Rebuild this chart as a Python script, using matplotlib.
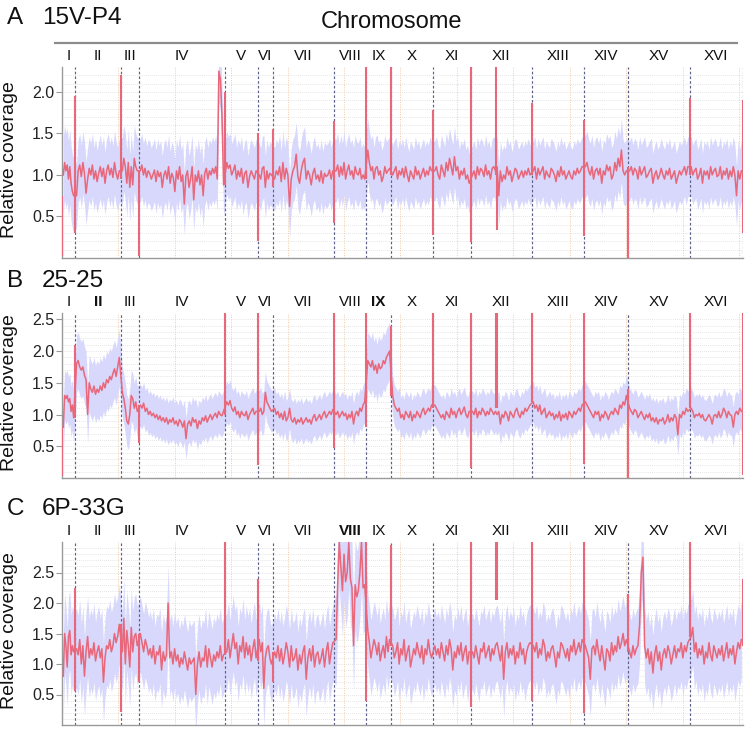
import numpy as np
import matplotlib
matplotlib.use('Agg')
import matplotlib.pyplot as plt

plt.rcParams['font.family'] = ['Liberation Sans', 'DejaVu Sans']

chrom_names = ['I', 'II', 'III', 'IV', 'V', 'VI', 'VII', 'VIII', 'IX', 'X',
               'XI', 'XII', 'XIII', 'XIV', 'XV', 'XVI']
chrom_len_kb = [230, 813, 317, 1532, 577, 270, 1091, 563, 440, 746, 667,
                1078, 924, 784, 1091, 948]

# relative coverage per chromosome (bins spread evenly along each chromosome)
covA = [
    [1.0, 1.15, 1.05, 1.12, 0.95, 1.1, 0.9, 0.8, 0.75],
    [0.75, 1.05, 1.12, 0.98, 1.15, 1.02, 0.78, 0.95, 1.08, 1.0, 1.12, 0.95, 1.05, 0.92, 1.02, 1.1, 0.98, 1.08, 0.9, 1.05, 1.12, 1.0, 1.08, 0.97, 1.15, 1.02, 0.95, 1.05],
    [1.05, 1.2, 1.1, 0.9, 1.15, 0.85, 1.1, 0.88, 1.2, 1.1, 1.05],
    [1.05, 1.12, 1.0, 1.08, 0.97, 1.05, 1.02, 0.95, 1.0, 1.06, 0.92, 1.05, 0.98, 1.03, 0.85, 1.0, 1.05, 0.95, 1.1, 0.9, 1.02, 0.97, 0.8, 1.05, 0.95, 1.1, 0.92, 1.0, 0.65, 0.98, 1.05, 0.85, 0.95, 1.1, 0.7, 1.0, 0.92, 1.05, 0.88, 1.0, 0.75, 1.02, 1.08, 0.95, 1.05, 1.0, 1.08, 1.02, 1.1, 0.95, 2.25, 2.15, 1.7, 0.88],
    [1.15, 1.08, 1.12, 1.0, 1.05, 1.12, 0.95, 1.05, 0.98, 1.08, 0.9, 1.02, 1.05, 0.85, 0.98, 1.05, 1.0, 0.95, 1.05],
    [1.0, 0.95, 1.08, 1.1, 0.85, 1.05, 0.95, 1.02, 1.0],
    [0.95, 1.05, 1.0, 1.1, 0.92, 1.15, 0.95, 1.08, 1.0, 0.62, 0.95, 1.05, 1.1, 1.25, 0.98, 0.9, 1.05, 1.15, 1.2, 0.95, 1.05, 1.0, 0.88, 1.02, 1.08, 0.95, 1.0, 0.92, 1.05, 0.9, 1.02, 0.98, 1.0, 1.06, 0.95, 1.05],
    [1.05, 1.12, 0.98, 1.1, 1.0, 1.15, 0.95, 1.05, 1.12, 1.0, 1.05, 0.95, 1.1, 1.02, 1.0, 1.08, 0.95, 1.0, 0.95],
    [1.3, 1.15, 1.05, 1.1, 0.95, 1.08, 1.1, 1.0, 1.05, 0.92, 0.98, 1.1, 1.02, 1.05, 1.08],
    [1.0, 1.05, 1.1, 0.95, 1.05, 1.0, 1.08, 0.97, 1.1, 1.0, 0.92, 1.05, 1.0, 0.95, 1.1, 1.0, 1.05, 0.95, 1.02, 1.08, 0.98, 1.05, 1.0, 1.1, 1.05],
    [1.05, 1.1, 1.0, 0.95, 1.12, 1.05, 0.98, 1.15, 1.05, 1.2, 1.1, 1.0, 1.22, 1.05, 1.1, 0.95, 1.05, 1.0, 1.08, 0.95, 1.0, 0.9],
    [1.0, 1.05, 0.95, 1.1, 1.0, 1.08, 1.05, 0.98, 1.12, 1.0, 1.05, 0.95, 1.08, 1.1, 1.05, 1.1, 0.75, 1.05, 0.92, 1.0, 0.95, 1.1, 1.0, 1.05, 0.92, 1.0, 1.08, 1.05, 0.95, 1.0, 1.05, 0.97, 1.05, 1.0, 1.08, 1.0],
    [1.05, 1.1, 0.95, 1.08, 1.0, 1.05, 1.1, 0.95, 1.05, 1.0, 0.97, 1.08, 1.05, 1.0, 0.92, 1.05, 0.98, 1.1, 1.0, 1.05, 0.95, 1.0, 1.05, 0.98, 0.95, 1.05, 1.0, 1.08, 1.02, 1.05, 1.1],
    [1.1, 1.15, 1.05, 1.0, 1.1, 0.95, 1.05, 1.08, 1.0, 1.08, 0.9, 1.05, 1.0, 1.12, 1.05, 1.1, 0.95, 1.0, 1.15, 1.05, 1.2, 1.1, 1.3, 1.05, 1.0, 1.05],
    [1.05, 1.1, 1.0, 1.08, 1.05, 0.95, 1.1, 1.0, 1.05, 1.1, 0.97, 1.0, 1.05, 1.08, 0.9, 1.0, 1.05, 0.95, 1.0, 1.08, 1.0, 0.95, 1.05, 1.0, 1.08, 0.95, 1.0, 1.05, 0.9, 0.98, 1.05, 1.0, 1.05, 1.1, 1.0, 1.1],
    [1.1, 1.0, 1.05, 1.08, 0.95, 1.0, 1.08, 0.9, 1.05, 1.0, 1.05, 0.95, 1.1, 1.0, 1.05, 1.08, 0.98, 1.0, 1.1, 0.95, 1.05, 1.0, 1.08, 0.95, 1.05, 0.98, 1.1, 1.0, 0.75, 1.05, 0.95, 1.05],
]
bandA = [0.45, 0.38, 0.4, 0.38, 0.38, 0.38, 0.38, 0.38, 0.38, 0.36, 0.36, 0.36, 0.36, 0.38, 0.36, 0.36]
# sharp single-bin spikes: (chromosome index, position along chromosome 0..1, low, high)
spikesA = [(0, 0, 0.03, 0.75), (0, 1, 0.3, 1.95), (1, 1, 0.95, 2.2), (2, 1, 0.02, 1.05),
           (3, 1, 0.88, 2.0), (4, 1, 0.2, 1.5), (5, 1, 0.85, 1.55), (6, 1, 0.42, 1.65),
           (7, 1, 0.95, 2.3), (8, 1, 1.0, 2.3), (9, 1, 0.28, 1.78), (10, 1, 0.19, 2.3),
           (11, 0.41, 1.0, 2.3), (11, 0.43, 0.34, 1.0), (11, 1, 1.0, 1.87),
           (12, 1, 0.26, 1.66), (13, 1, 0.0, 1.1), (14, 1, 1.0, 1.93), (15, 1, 0.3, 1.9)]

covB = [
    [0.8, 1.3, 1.25, 1.3, 1.2, 1.25, 1.05, 1.15, 0.95],
    [1.8, 1.85, 1.75, 1.7, 1.75, 1.62, 1.55, 1.0, 1.5, 1.4, 1.35, 1.45, 1.32, 1.4, 1.35, 1.45, 1.38, 1.5, 1.42, 1.55, 1.5, 1.6, 1.55, 1.65, 1.72, 1.6, 1.75, 1.9],
    [1.35, 1.25, 1.1, 0.9, 0.85, 1.0, 1.3, 1.25, 1.1, 1.2, 1.05],
    [1.15, 1.1, 1.18, 1.05, 1.1, 1.0, 1.05, 0.98, 1.02, 0.95, 1.0, 0.92, 0.98, 0.9, 0.95, 0.88, 0.95, 0.85, 0.92, 0.88, 0.95, 0.85, 0.9, 0.82, 0.92, 0.88, 0.8, 0.9, 0.62, 0.85, 0.9, 0.82, 0.95, 0.88, 0.92, 0.78, 0.9, 0.85, 0.95, 0.9, 0.98, 0.88, 0.95, 1.0, 0.92, 0.98, 1.02, 0.95, 1.05, 1.0, 0.98, 1.05],
    [1.2, 1.15, 1.22, 1.1, 1.05, 1.12, 1.0, 1.05, 0.95, 1.05, 1.0, 0.98, 1.05, 0.92, 1.0, 1.05, 1.1, 1.0, 1.05],
    [1.05, 1.1, 1.0, 1.05, 1.35, 1.2, 1.15, 1.1, 1.05],
    [1.1, 1.0, 1.05, 0.95, 1.02, 0.92, 1.05, 0.9, 0.95, 1.1, 0.92, 0.88, 0.95, 0.85, 0.92, 0.88, 0.95, 0.85, 0.9, 0.95, 0.88, 0.92, 0.85, 0.95, 1.0, 0.9, 0.95, 1.0, 0.92, 1.0, 1.05, 0.95, 1.0, 1.05, 1.0, 1.08],
    [1.0, 1.05, 0.95, 1.0, 1.05, 0.98, 1.02, 0.92, 1.0, 0.95, 1.05, 0.85, 1.0, 1.05, 0.98, 1.1, 1.05, 1.15, 1.2],
    [1.85, 1.8, 1.75, 1.85, 1.7, 1.78, 1.65, 1.8, 1.72, 1.75, 1.85, 1.8, 1.9, 1.95, 2.0],
    [1.3, 1.15, 1.1, 1.05, 1.1, 0.95, 1.0, 0.92, 1.05, 1.0, 0.95, 1.05, 0.9, 1.0, 0.95, 1.05, 1.0, 0.95, 1.05, 1.1, 1.0, 1.05, 1.1, 1.05, 1.15],
    [1.15, 1.1, 1.05, 1.0, 0.95, 1.0, 0.92, 1.05, 1.0, 0.95, 1.1, 1.0, 1.05, 0.95, 1.05, 1.1, 1.0, 1.05, 1.12, 1.0, 0.95, 1.05],
    [1.05, 1.0, 1.1, 0.95, 1.05, 1.0, 1.1, 1.05, 0.98, 1.05, 1.0, 1.1, 1.05, 1.0, 1.05, 1.0, 1.05, 0.85, 1.0, 0.95, 1.05, 1.0, 0.9, 1.05, 1.0, 0.95, 1.05, 1.1, 1.0, 0.95, 1.05, 1.0, 1.1, 1.05, 1.1, 1.15],
    [1.2, 1.1, 1.15, 1.05, 1.15, 1.0, 1.05, 1.1, 0.95, 1.0, 1.05, 0.98, 1.02, 0.92, 1.0, 0.95, 1.05, 0.9, 1.0, 0.95, 1.02, 0.92, 1.05, 1.0, 0.95, 1.05, 1.0, 1.05, 1.1, 1.05, 1.15],
    [1.2, 1.15, 1.1, 1.05, 1.0, 0.95, 1.05, 1.0, 1.05, 0.9, 1.0, 0.95, 1.05, 1.0, 0.92, 1.0, 1.05, 1.0, 1.1, 1.05, 1.0, 1.15, 1.1, 1.2, 1.15, 1.3],
    [1.1, 1.05, 1.0, 1.08, 1.05, 0.95, 1.0, 1.05, 0.98, 0.92, 1.0, 0.95, 1.02, 0.9, 0.95, 0.88, 0.95, 0.85, 0.92, 0.9, 0.95, 0.85, 0.9, 1.0, 0.88, 0.95, 0.9, 1.0, 0.95, 0.68, 1.0, 0.95, 1.05, 1.0, 1.1, 1.05],
    [1.1, 1.05, 0.95, 1.0, 0.98, 1.02, 0.95, 1.0, 0.92, 0.9, 0.95, 1.0, 0.95, 0.85, 0.98, 1.0, 0.95, 1.05, 0.95, 1.0, 1.1, 1.05, 0.95, 1.05, 1.0, 0.98, 0.8, 1.0, 1.05, 1.0, 1.1, 1.05],
]
bandB = [0.4, 0.45, 0.4, 0.33, 0.33, 0.33, 0.32, 0.32, 0.45, 0.32, 0.32, 0.32, 0.32, 0.32, 0.32, 0.32]
spikesB = [(0, 0, 0.03, 0.8), (0, 1, 0.95, 2.1), (2, 1, 0.55, 1.15), (3, 1, 1.0, 2.6),
           (4, 1, 0.2, 2.6), (6, 1, 0.48, 2.6), (7, 1, 0.8, 2.6), (8, 1, 1.3, 2.4),
           (9, 1, 1.1, 2.6), (10, 1, 0.15, 2.6), (11, 0.41, 1.1, 2.6), (11, 0.43, 1.1, 2.6),
           (11, 1, 1.2, 2.6), (12, 1, 0.22, 2.6), (13, 1, 0.0, 1.4), (14, 1, 1.1, 2.6),
           (15, 1, 0.05, 2.6)]

covC = [
    [0.8, 1.5, 1.3, 0.95, 1.45, 1.55, 1.15, 1.3, 1.2],
    [1.25, 1.15, 1.4, 1.0, 1.3, 0.8, 1.2, 1.45, 1.1, 1.25, 1.15, 1.35, 1.05, 1.2, 1.3, 1.1, 1.25, 0.7, 1.1, 1.3, 1.25, 1.4, 1.2, 1.3, 1.5, 1.35, 1.45, 1.65],
    [1.2, 1.75, 1.0, 1.55, 1.3, 0.95, 1.6, 1.2, 1.45, 1.5, 1.3],
    [1.5, 1.35, 1.2, 1.4, 1.3, 1.15, 1.25, 1.1, 1.3, 1.0, 1.2, 1.15, 1.3, 0.9, 1.2, 1.05, 1.15, 2.0, 1.1, 1.2, 1.0, 1.25, 1.05, 1.15, 0.95, 1.1, 1.0, 1.2, 1.05, 0.9, 1.1, 1.0, 1.05, 1.1, 0.5, 1.0, 1.2, 0.95, 1.1, 1.05, 1.3, 0.95, 1.25, 1.1, 0.95, 1.15, 1.05, 1.2, 1.1, 1.3, 1.05, 1.15],
    [1.2, 1.4, 1.1, 1.3, 1.5, 1.25, 1.35, 1.0, 1.3, 1.2, 1.45, 1.1, 1.35, 1.15, 1.3, 1.05, 1.25, 1.4, 1.1],
    [1.4, 1.2, 1.35, 0.6, 1.1, 1.25, 1.3, 1.1, 1.0],
    [1.2, 1.1, 1.3, 1.05, 1.25, 1.0, 1.15, 1.35, 1.2, 0.95, 1.3, 1.05, 1.1, 1.25, 0.9, 1.15, 1.0, 1.2, 1.3, 0.75, 1.1, 1.25, 1.05, 1.3, 0.95, 1.15, 1.2, 1.0, 1.1, 1.25, 0.95, 1.2, 1.35, 1.0, 1.2, 1.35],
    [1.4, 2.3, 3.0, 2.6, 2.2, 2.8, 2.35, 2.5, 3.0, 2.4, 2.25, 1.3, 2.3, 2.1, 2.2, 2.5, 3.0, 2.25, 2.3],
    [1.55, 1.35, 1.1, 1.25, 1.4, 1.3, 1.15, 1.35, 1.05, 1.2, 1.3, 1.1, 1.45, 1.2, 1.4],
    [1.3, 1.1, 1.2, 1.35, 1.0, 1.25, 1.15, 1.4, 1.05, 1.2, 1.3, 0.95, 1.1, 1.25, 1.15, 1.35, 1.2, 1.1, 1.3, 1.0, 1.25, 1.15, 1.4, 1.2, 1.1],
    [1.3, 1.15, 1.25, 1.1, 1.35, 1.2, 1.05, 1.3, 1.15, 1.4, 1.25, 0.9, 1.2, 1.1, 1.3, 1.15, 1.35, 1.05, 1.2, 1.3, 1.0, 1.2],
    [1.2, 1.1, 1.3, 1.15, 1.0, 1.25, 1.2, 1.35, 1.1, 1.2, 1.3, 1.05, 1.25, 1.15, 1.3, 1.35, 1.2, 1.05, 1.3, 0.75, 1.2, 1.35, 1.1, 1.25, 1.15, 1.3, 1.0, 1.2, 1.1, 1.35, 1.15, 1.25, 1.0, 1.2, 1.3, 1.35],
    [1.3, 1.2, 1.35, 1.1, 1.25, 1.15, 1.4, 1.3, 1.05, 1.2, 1.1, 1.25, 1.3, 1.15, 0.95, 1.2, 1.1, 1.35, 1.3, 1.2, 1.1, 1.25, 1.05, 1.3, 1.2, 1.4, 1.15, 1.25, 1.35, 1.2, 1.4],
    [1.3, 1.2, 1.1, 0.75, 1.25, 1.3, 1.15, 1.4, 1.2, 1.05, 1.3, 1.1, 0.9, 1.25, 1.2, 1.05, 1.35, 1.15, 1.3, 1.2, 1.45, 1.25, 1.35, 1.5, 1.3, 1.4],
    [1.2, 1.1, 1.3, 1.15, 1.25, 1.3, 1.65, 2.5, 2.75, 1.3, 1.1, 1.25, 1.0, 1.2, 0.85, 1.15, 1.3, 1.05, 1.2, 0.9, 1.15, 1.25, 1.1, 1.3, 1.2, 1.0, 1.15, 1.3, 1.1, 1.25, 1.2, 1.35, 1.1, 1.3, 1.2, 1.35],
    [1.45, 1.6, 1.2, 1.35, 1.1, 1.25, 1.15, 1.3, 1.0, 1.2, 1.1, 1.35, 1.15, 1.05, 1.3, 1.2, 1.1, 1.25, 1.15, 1.3, 1.05, 1.2, 1.35, 1.1, 1.25, 1.15, 1.3, 1.0, 1.2, 1.35, 1.25, 1.4],
]
bandC = [0.65, 0.65, 0.65, 0.62, 0.62, 0.62, 0.62, 0.75, 0.62, 0.62, 0.62, 0.62, 0.62, 0.62, 0.62, 0.62]
spikesC = [(0, 1, 0.55, 2.25), (1, 1, 0.22, 1.65), (2, 1, 0.7, 1.5), (3, 1, 1.15, 3.0),
           (4, 1, 1.05, 2.4), (5, 1, 0.7, 1.2), (7, 1, 0.4, 3.0), (8, 1, 1.3, 2.95),
           (10, 1, 0.3, 3.0), (11, 0.41, 2.05, 3.0), (11, 0.43, 2.05, 3.0), (11, 1, 0.4, 3.0),
           (12, 1, 0.2, 3.0), (13, 1, 1.2, 2.15), (14, 1, 1.45, 3.0), (15, 1, 1.3, 2.4)]

panels = [
    dict(tag='A', name='15V-P4', cov=covA, band=bandA, spikes=spikesA, ylim=(0, 2.3),
         yticks=[0.5, 1.0, 1.5, 2.0], bold=[],
         rect=[62, 67, 743, 258], title_base=24),
    dict(tag='B', name='25-25', cov=covB, band=bandB, spikes=spikesB, ylim=(0, 2.6),
         yticks=[0.5, 1.0, 1.5, 2.0, 2.5], bold=['II', 'IX'],
         rect=[62, 313, 743, 478], title_base=287),
    dict(tag='C', name='6P-33G', cov=covC, band=bandC, spikes=spikesC, ylim=(0, 3.0),
         yticks=[0.5, 1.0, 1.5, 2.0, 2.5], bold=['VIII'],
         rect=[62, 542, 743, 725], title_base=515),
]

W, H = 747, 729
fig = plt.figure(figsize=(W / 100, H / 100), dpi=100)

ends = np.cumsum(chrom_len_kb)
starts = ends - np.array(chrom_len_kb)
total = ends[-1]

RED = '#e8677a'
BAND = '#d8d8fc'

for p in panels:
    l, t, r, b = p['rect']
    ax = fig.add_axes([l / W, 1 - b / H, (r - l) / W, (b - t) / H])
    xs, ys, lo, hi = [], [], [], []
    for i, vals in enumerate(p['cov']):
        v = np.array(vals)
        x = np.linspace(starts[i], ends[i], len(v) + 2)[1:-1]
        xs.append(x)
        ys.append(v)
        lo.append(v - p['band'][i])
        hi.append(v + p['band'][i])
    xs = np.concatenate(xs); ys = np.concatenate(ys)
    lo = np.concatenate(lo); hi = np.concatenate(hi)

    ax.set_xlim(0, total)
    ax.set_ylim(*p['ylim'])

    # grid
    for yv in np.arange(0.1, p['ylim'][1], 0.1):
        ax.axhline(yv, color='#dcdcdc', lw=0.6, ls=(0, (1, 1.5)), zorder=0)
    for xv in np.arange(1000, total, 1000):
        ax.axvline(xv, color='#f2c9a6', lw=0.7, ls=(0, (1, 1.5)), zorder=0)

    ax.fill_between(xs, lo, hi, color=BAND, lw=0, zorder=1)
    for e in ends:
        ax.axvline(e, color='#5d6088', lw=0.85, ls=(0, (2.2, 1.8)), zorder=2)
    ax.plot(xs, ys, color=RED, lw=1.1, zorder=3, solid_joinstyle='round')
    for ci, frac, slo, shi in p['spikes']:
        sx = starts[ci] + frac * chrom_len_kb[ci]
        ax.vlines(sx, slo, shi, color=RED, lw=1.5, zorder=3)

    for s in ['top', 'right']:
        ax.spines[s].set_visible(False)
    for s in ['left', 'bottom']:
        ax.spines[s].set_color('#9a9a9a')
        ax.spines[s].set_linewidth(1.0)
    ax.set_xticks([])
    ax.set_yticks(p['yticks'])
    ax.set_yticklabels(['%.1f' % v for v in p['yticks']])
    ax.tick_params(axis='y', length=4, width=0.8, color='#9a9a9a',
                   labelsize=11.5, labelcolor='#222222', pad=1.5)

    for i, nm in enumerate(chrom_names):
        mid = (starts[i] + ends[i]) / 2
        ax.annotate(nm, xy=(mid, 1), xycoords=ax.get_xaxis_transform(),
                    xytext=(0, 8), textcoords='offset points',
                    ha='center', va='center', fontsize=11,
                    fontweight='bold' if nm in p['bold'] else 'normal',
                    color='#111111')

    fig.text(7 / W, 1 - p['title_base'] / H, p['tag'], fontsize=17.5,
             va='baseline', ha='left', color='#111111')
    fig.text(42 / W, 1 - p['title_base'] / H, p['name'], fontsize=17.5,
             va='baseline', ha='left', color='#111111')
    fig.text(10 / W, 1 - ((t + b) / 2 - 3) / H, 'Relative coverage',
             rotation=90, fontsize=14, ha='center', va='center',
             color='#111111')

fig.text(392 / W, 1 - 28 / H, 'Chromosome', fontsize=17, ha='center',
         va='baseline', color='#111111')
fig.add_artist(plt.Line2D([55 / W, 737 / W], [1 - 43 / H, 1 - 43 / H],
                          color='#8c8c8c', lw=1.6))

fig.savefig('out.png', dpi=100)
